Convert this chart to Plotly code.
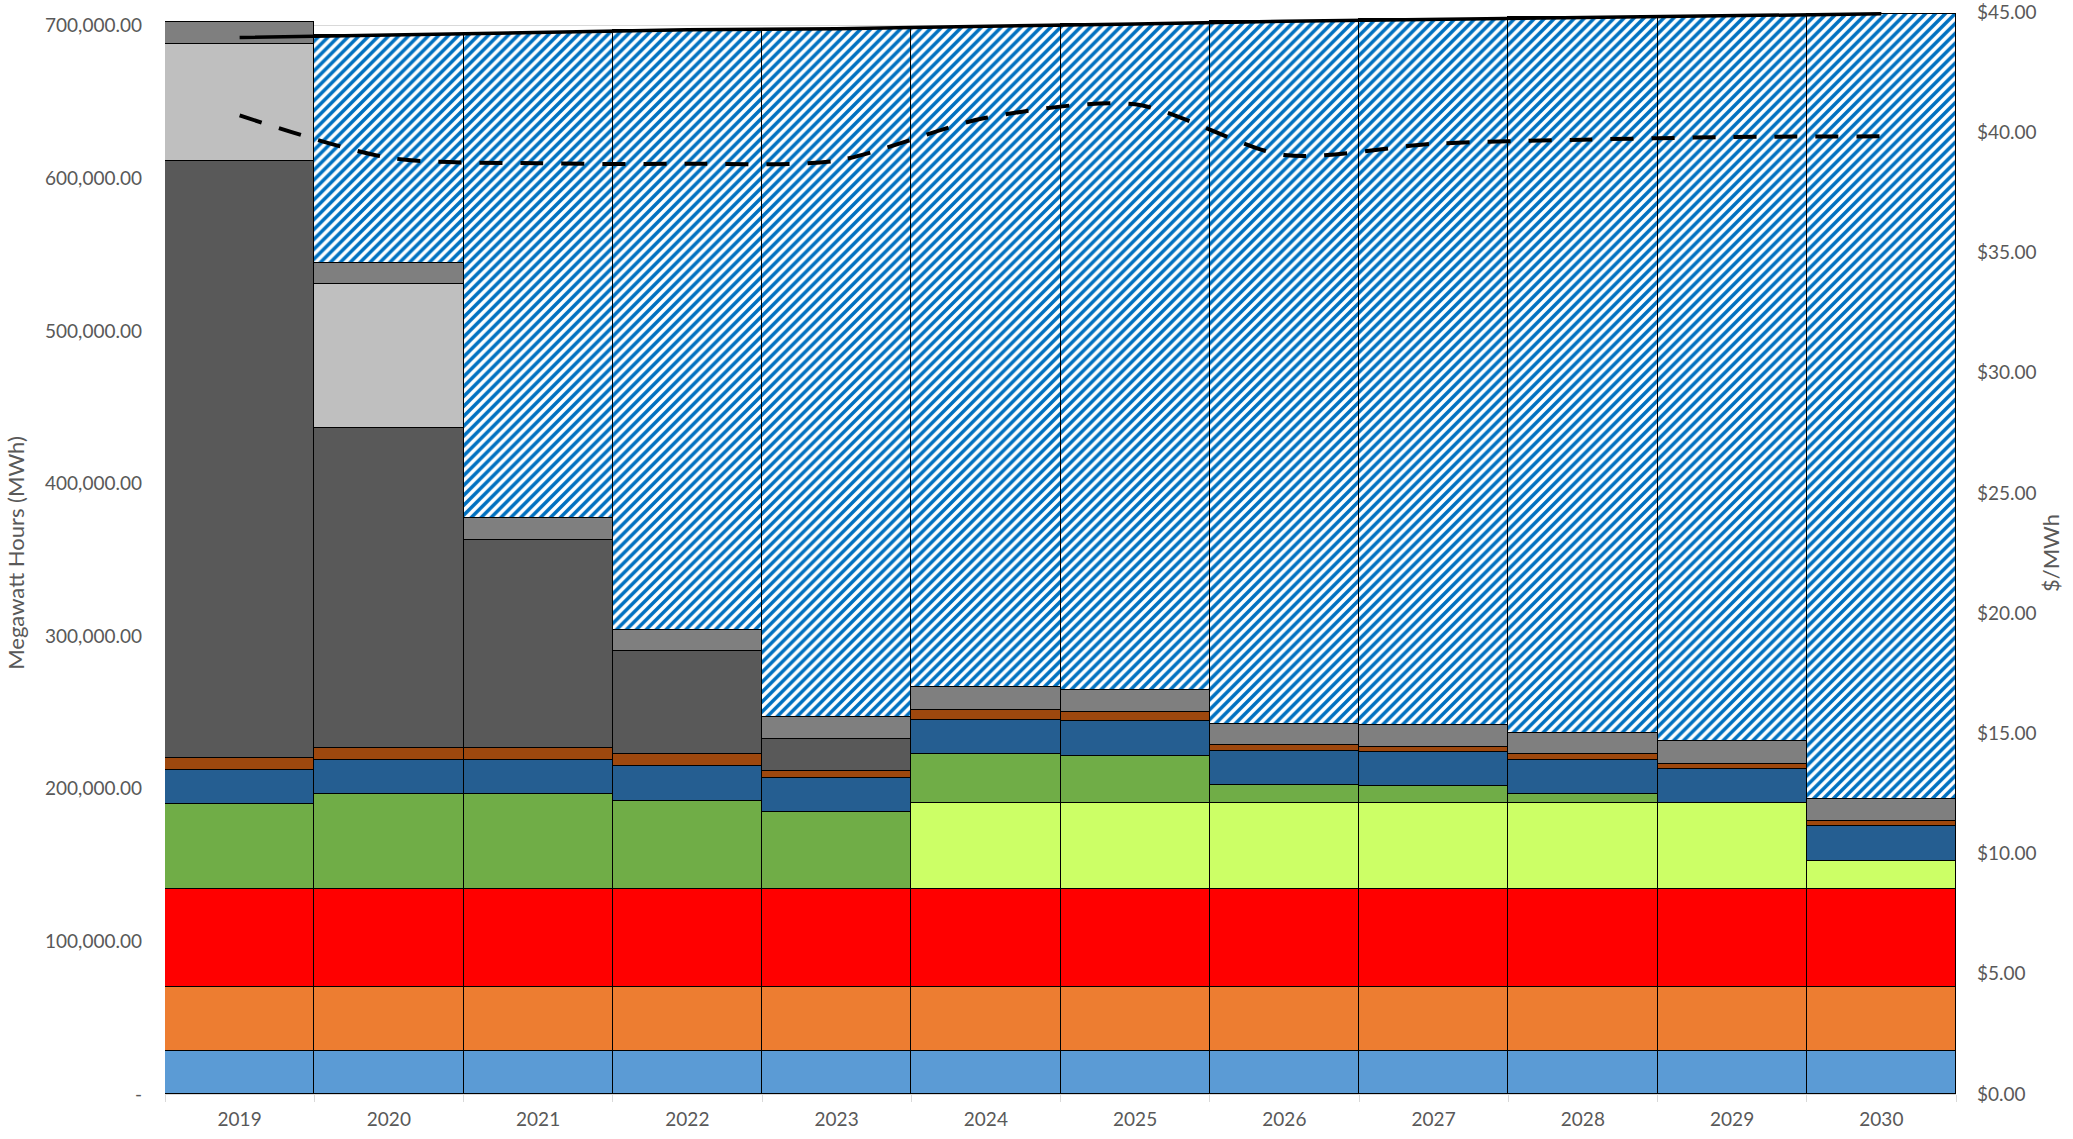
import plotly.graph_objects as go

years = ["2019", "2020", "2021", "2022", "2023", "2024", "2025", "2026", "2027", "2028", "2029", "2030"]

# MWh by resource (stacked, bottom to top)
s_lightblue = [28200, 28200, 28200, 28200, 28200, 28200, 28200, 28200, 28200, 28200, 28200, 28200]
s_orange = [41700, 41700, 41700, 41700, 41700, 41700, 41700, 41700, 41700, 41700, 41700, 41700]
s_red = [64300, 64300, 64300, 64300, 64300, 64300, 64300, 64300, 64300, 64300, 64300, 64300]
s_yellowgreen = [0, 0, 0, 0, 0, 56600, 56600, 56600, 56600, 56600, 56600, 18600]
s_green = [55700, 62500, 62500, 57900, 50300, 31900, 31000, 11600, 10700, 5500, 0, 0]
s_darkblue = [22700, 22000, 22000, 22700, 22700, 22400, 22700, 22400, 22500, 22400, 22000, 22700]
s_brown = [7600, 8300, 8300, 7900, 4500, 6800, 6100, 3800, 3700, 3800, 3500, 3700]
s_darkgray = [391200, 209300, 136000, 67700, 20600, 0, 0, 0, 0, 0, 0, 0]
s_lightgray = [76400, 94600, 0, 0, 0, 0, 0, 0, 0, 0, 0, 0]
s_gray = [14400, 13700, 14700, 13800, 14800, 14800, 14400, 13700, 13900, 14100, 14900, 14000]
s_hatched = [0, 149300, 317600, 393100, 451000, 432700, 436200, 460600, 462600, 469000, 475200, 514500]

# Load line (MWh) and price line ($/MWh)
load = [692300, 693900, 695300, 697300, 698100, 699400, 701200, 702900, 704200, 705600, 706400, 707800]
price = [40.70, 38.94, 38.71, 38.69, 38.82, 40.60, 41.16, 39.05, 39.52, 39.69, 39.80, 39.83]

left_ticks = [0, 100000, 200000, 300000, 400000, 500000, 600000, 700000]
left_ticktext = ["-"] + [f"{v:,.2f}" for v in left_ticks[1:]]
right_ticks = [0, 5, 10, 15, 20, 25, 30, 35, 40, 45]
right_ticktext = ["$" + f"{v:.2f}" for v in right_ticks]

FONT = "Lato, 'Open Sans', sans-serif"
TXT = "#595959"

series = [
    (s_lightblue, "#5B9BD5"),
    (s_orange, "#ED7D31"),
    (s_red, "#FF0000"),
    (s_yellowgreen, "#CCFF66"),
    (s_green, "#70AD47"),
    (s_darkblue, "#255E91"),
    (s_brown, "#9E480E"),
    (s_darkgray, "#595959"),
    (s_lightgray, "#BFBFBF"),
    (s_gray, "#7F7F7F"),
]

fig = go.Figure()
for vals, col in series:
    fig.add_trace(go.Bar(
        x=years, y=vals, marker=dict(color=col, line=dict(color="#000000", width=1)),
        showlegend=False, hoverinfo="skip"))

fig.add_trace(go.Bar(
    x=years, y=s_hatched,
    marker=dict(color="white",
                line=dict(color="#000000", width=1.5),
                pattern=dict(shape="/", fgcolor="#0070C0", bgcolor="white", size=7, solidity=0.5, fillmode="replace")),
    showlegend=False, hoverinfo="skip"))

fig.add_trace(go.Scatter(
    x=years, y=load, mode="lines", line=dict(color="#000000", width=3.5),
    showlegend=False, hoverinfo="skip"))

fig.add_trace(go.Scatter(
    x=years, y=price, mode="lines", yaxis="y2",
    line=dict(color="#000000", width=4, dash="23px,18px", shape="spline", smoothing=0.8),
    showlegend=False, hoverinfo="skip"))

fig.update_layout(
    width=2073, height=1139, autosize=False,
    margin=dict(l=165, r=117, t=12, b=45),
    barmode="stack", bargap=0,
    plot_bgcolor="white", paper_bgcolor="white",
    font=dict(family=FONT, size=19, color=TXT),
    xaxis=dict(type="category", showgrid=False, showline=True, linecolor="#D9D9D9", linewidth=1,
               ticks="outside", tickson="boundaries", ticklen=7, tickcolor="#D9D9D9",
               ticklabelstandoff=8, tickfont=dict(size=19, color=TXT), automargin=False),
    yaxis=dict(range=[0, 709000], tickvals=left_ticks, ticktext=left_ticktext,
               showgrid=True, gridcolor="#D9D9D9", zeroline=False, showline=False,
               ticklabelstandoff=22, tickfont=dict(size=19, color=TXT), automargin=False,
               ticklabeloverflow="allow",
               title=dict(text="Megawatt Hours (MWh)", font=dict(size=22, color=TXT), standoff=14)),
    yaxis2=dict(range=[0, 45], tickvals=right_ticks, ticktext=right_ticktext,
                overlaying="y", side="right", showgrid=False, zeroline=False, showline=False,
                ticklabelstandoff=20, tickfont=dict(size=19, color=TXT), automargin=False,
                ticklabeloverflow="allow",
                title=dict(text="$/MWh", font=dict(size=22, color=TXT), standoff=8)),
)

# remove the default page margin so the figure fills the window exactly
fig.write_html("out.html", config={"displayModeBar": False},
               post_script="document.body.style.margin='0px';")
